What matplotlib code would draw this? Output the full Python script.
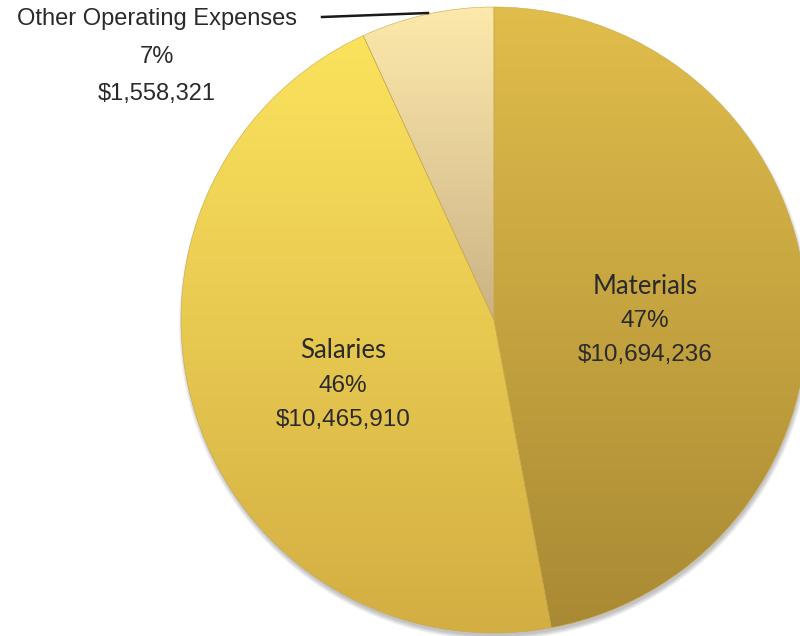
import numpy as np
import matplotlib
matplotlib.use("Agg")
import matplotlib.pyplot as plt
from matplotlib.patches import Circle
from matplotlib.colors import LinearSegmentedColormap

# data
categories = ["Materials", "Salaries", "Other Operating Expenses"]
amounts = [10694236, 10465910, 1558321]
percents = ["47%", "46%", "7%"]
amount_labels = ["$10,694,236", "$10,465,910", "$1,558,321"]

# gradient colours (top, bottom) per slice
grad_top = ["#e1bd4b", "#fbe35d", "#fde9ab"]
grad_bottom = ["#a98a34", "#d3ae43", "#cbb285"]

W, H = 800, 636
cx, cy, r = 494, 316, 313

fig = plt.figure(figsize=(8, 6.36), dpi=100)
ax = fig.add_axes([0, 0, 1, 1])

# soft drop shadow under the pie
for i in range(7):
    ax.add_patch(Circle((cx + 1, cy - 4), r - 1 + i * 0.7, color="black",
                        alpha=0.035, lw=0, zorder=0))

wedges, _ = ax.pie(amounts, startangle=90, counterclock=False,
                   center=(cx, cy), radius=r, frame=True,
                   wedgeprops=dict(linewidth=0.4, edgecolor="#c9a94a"))

for w, c0, c1 in zip(wedges, grad_top, grad_bottom):
    ext = w.get_path().get_extents()
    cmap = LinearSegmentedColormap.from_list("g", [c1, c0])
    grad = np.linspace(0, 1, 256).reshape(-1, 1)
    im = ax.imshow(grad, cmap=cmap, origin="lower", aspect="auto",
                   extent=[ext.x0, ext.x1, ext.y0, ext.y1], zorder=1.5,
                   interpolation="bilinear")
    im.set_clip_path(w)
    w.set_facecolor("none")
    w.set_zorder(2)

ax.set_xlim(0, W)
ax.set_ylim(0, H)
ax.set_aspect("equal")
ax.axis("off")

name_font = dict(family=["Lato", "DejaVu Sans"], fontsize=18.5, color="#2a2a2a",
                 ha="center", va="center", zorder=5)
num_font = dict(family=["Liberation Sans", "DejaVu Sans"], fontsize=17.5, color="#2a2a2a",
                ha="center", va="center", zorder=5)
# Materials
ax.text(cx + 151, cy + 33, categories[0], **name_font)
ax.text(cx + 151, cy - 1, percents[0], **num_font)
ax.text(cx + 151, cy - 35, amount_labels[0], **num_font)
# Salaries
ax.text(cx - 151, cy - 31, categories[1], **name_font)
ax.text(cx - 151, cy - 66, percents[1], **num_font)
ax.text(cx - 151, cy - 100, amount_labels[1], **num_font)

outer_font = dict(family=["Liberation Sans", "DejaVu Sans"], fontsize=17, color="#2a2a2a",
                  ha="center", va="center", zorder=5)
ax.text(157, H - 19, categories[2], **outer_font)
ax.text(157, H - 57, percents[2], **outer_font)
ax.text(157, H - 94, amount_labels[2], **outer_font)
ax.plot([322, 428], [H - 17, H - 13], color="#1a1a1a", lw=1.8, zorder=5)

fig.savefig("out.png", dpi=100, facecolor="white")
